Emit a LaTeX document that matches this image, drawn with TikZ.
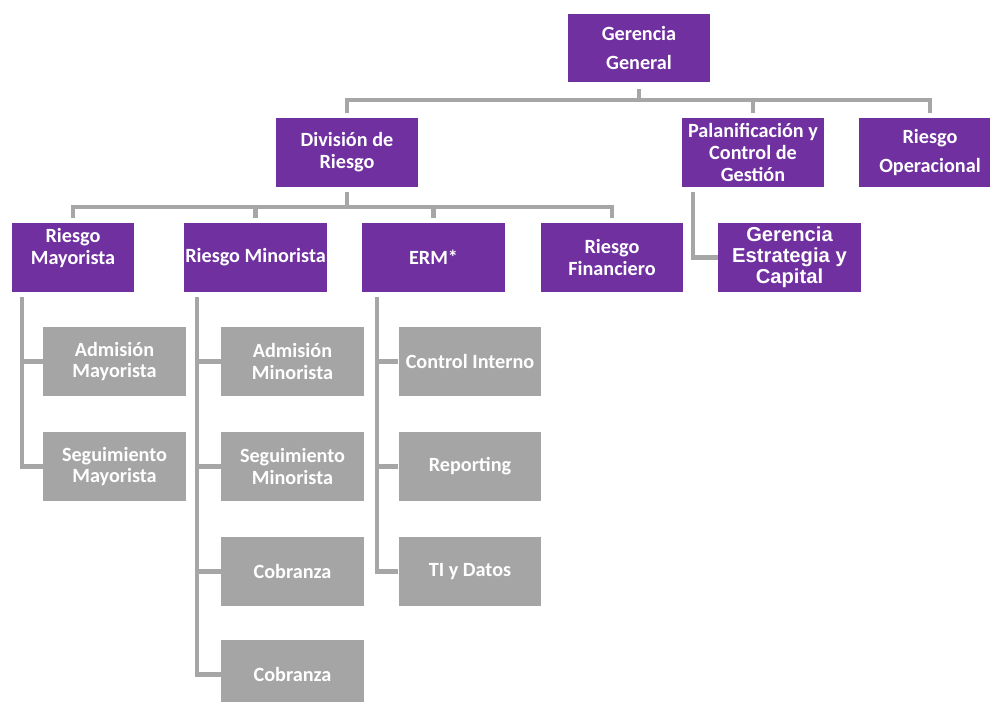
\documentclass[tikz,border=0pt]{standalone}
\usepackage{fontspec}
\setmainfont{Carlito}
\newfontfamily\arialfont{Liberation Sans}
\usetikzlibrary{positioning}
\definecolor{morado}{HTML}{7030A0}
\definecolor{gris}{HTML}{A5A5A5}
\definecolor{linea}{HTML}{A6A6A6}

\begin{document}
\begin{tikzpicture}[x=0.02cm, y=-0.02cm,
    jefe/.style={rectangle, fill=morado, text=white, align=center, inner sep=0pt,
      minimum width=2.86cm, minimum height=1.38cm,
      font=\fontsize{11.5}{12.5}\selectfont\bfseries},
    area/.style={jefe, fill=gris},
    conn/.style={draw=linea, line width=2.3pt}]
    \useasboundingbox (0,0) rectangle (990,702);

    % primer nivel
    \node[jefe, font=\fontsize{11.5}{17}\selectfont\bfseries] (gg) at (639,48) {Gerencia\\General};
    \node[jefe] (div) at (347,152.5) {Divisi\'on de\\Riesgo};
    \node[jefe] (plan) at (753,152.5) {Palanificaci\'on y\\Control de\\Gesti\'on};
    \node[jefe, font=\fontsize{11.5}{17}\selectfont\bfseries] (oper) at (930,152.5) {Riesgo\\Operacional};

    % segundo nivel
    \node[jefe, minimum width=2.44cm] (may) at (73,257.5) {Riesgo\\Mayorista\\\mbox{}};
    \node[jefe] (min) at (255.5,257.5) {Riesgo Minorista};
    \node[jefe] (erm) at (433.5,257.5) {ERM*};
    \node[jefe] (fin) at (612,257.5) {Riesgo\\Financiero};
    \node[jefe, font=\fontsize{11.5}{12}\selectfont\arialfont\bfseries] (gec) at (789.5,257.5) {Gerencia\\Estrategia y\\Capital};

    % areas
    \node[area] (admmay) at (114.5,361.5) {Admisi\'on\\Mayorista};
    \node[area] (segmay) at (114.5,466.5) {Seguimiento\\Mayorista};
    \node[area] (admmin) at (292.5,361.5) {Admisi\'on\\Minorista};
    \node[area] (segmin) at (292.5,466.5) {Seguimiento\\Minorista};
    \node[area] (cob1) at (292.5,571.5) {Cobranza};
    \node[area] (cob2) at (292.5,674.5) {Cobranza};
    \node[area] (ci) at (470,361.5) {Control Interno};
    \node[area] (rep) at (470,466.5) {Reporting};
    \node[area] (ti) at (470,571.5) {TI y Datos};

    % conectores
    \coordinate (bus1) at (0,100);
    \coordinate (bus2) at (0,207);
    \draw[conn, shorten <=0.12cm] (gg.south) -- (gg.south |- bus1);
    \draw[conn, shorten <=0.1cm, shorten >=0.1cm] (div.north) |- (oper.north |- bus1) -- (oper.north);
    \draw[conn, shorten >=0.1cm] (plan.north |- bus1) -- (plan.north);

    \draw[conn, shorten <=0.1cm] (div.south) -- (div.south |- bus2);
    \draw[conn, shorten <=0.1cm, shorten >=0.1cm] (may.north) |- (fin.north |- bus2) -- (fin.north);
    \draw[conn, shorten >=0.1cm] (min.north |- bus2) -- (min.north);
    \draw[conn, shorten >=0.1cm] (erm.north |- bus2) -- (erm.north);

    \coordinate (planx) at (693,0);
    \draw[conn, shorten <=0.1cm] (plan.south -| planx) |- (gec.west);

    \coordinate (mayx) at (22,0);
    \draw[conn, shorten <=0.1cm] (may.south -| mayx) |- (segmay.west);
    \draw[conn] (admmay.west -| mayx) -- (admmay.west);

    \coordinate (minx) at (197,0);
    \draw[conn, shorten <=0.1cm] (min.south -| minx) |- (cob2.west);
    \foreach \n in {admmin, segmin, cob1}
        \draw[conn] (\n.west -| minx) -- (\n.west);

    \coordinate (ermx) at (377,0);
    \draw[conn, shorten <=0.1cm] (erm.south -| ermx) |- (ti.west);
    \foreach \n in {ci, rep}
        \draw[conn] (\n.west -| ermx) -- (\n.west);
\end{tikzpicture}
\end{document}
